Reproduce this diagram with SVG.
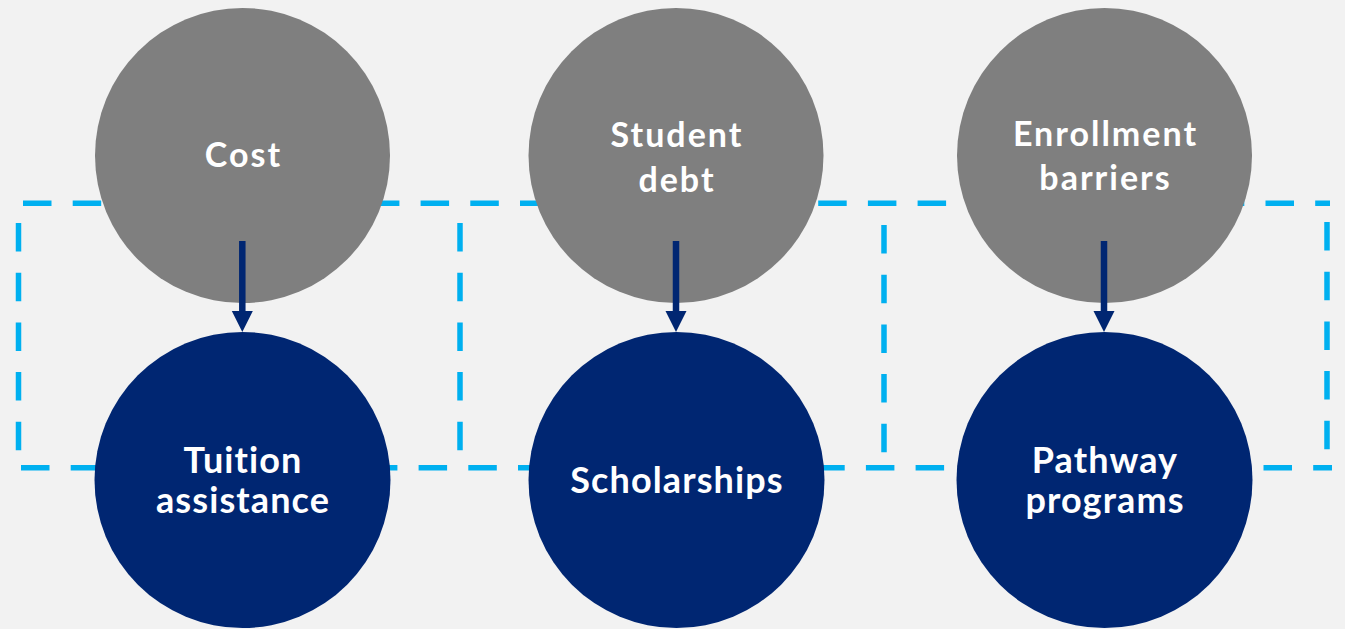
<svg xmlns="http://www.w3.org/2000/svg" width="1345" height="629" viewBox="0 0 1345 629">
  <defs>
    <style>
      .bg { fill: #F2F2F2; }
      .dash { stroke: #00B0F0; stroke-width: 5.5; fill: none; stroke-dasharray: 28.5 21.2; }
      .top { fill: #7F7F7F; }
      .bot { fill: #002672; }
      .lbl { fill: #FFFFFF; font-family: Lato, "Open Sans", "Liberation Sans", sans-serif; font-weight: bold; text-anchor: middle; font-variant-ligatures: none; font-feature-settings: "liga" 0; }
      .s1 { font-size: 34px; letter-spacing: 2px; }
      .s2 { font-size: 36px; letter-spacing: 1.1px; }
      .conn { stroke: #002672; stroke-width: 6.5; fill: none; }
    </style>
    <marker id="arrow" markerUnits="userSpaceOnUse" markerWidth="22" markerHeight="22" refX="0" refY="10.5" orient="auto" viewBox="0 0 22 22">
      <path d="M0,0 L21,10.5 L0,21 Z" fill="#002672"/>
    </marker>
  </defs>
  <rect class="bg" x="0" y="0" width="1345" height="629"/>

  <g id="groups">
    <line class="dash" x1="18" y1="203.3" x2="1330" y2="203.3" stroke-dashoffset="44.7"/>
    <line class="dash" x1="18" y1="467.7" x2="1332" y2="467.7" stroke-dashoffset="46.7"/>
    <line class="dash" x1="18.5" y1="203" x2="18.5" y2="468" stroke-dashoffset="29.7"/>
    <line class="dash" x1="460" y1="203" x2="460" y2="468" stroke-dashoffset="29.7"/>
    <line class="dash" x1="884" y1="205" x2="884" y2="470" stroke-dashoffset="29.7"/>
    <line class="dash" x1="1327" y1="202" x2="1327" y2="467" stroke-dashoffset="29.7"/>
  </g>

  <g id="node-cost">
    <circle class="top" cx="242.5" cy="155.5" r="147.5"/>
    <text class="lbl s1" x="243.5" y="167.3">Cost</text>
  </g>
  <g id="node-student-debt">
    <circle class="top" cx="676" cy="155.5" r="147.5"/>
    <text class="lbl s1" x="677" y="146.5">Student</text>
    <text class="lbl s1" x="677" y="192.3">debt</text>
  </g>
  <g id="node-enrollment-barriers">
    <circle class="top" cx="1104.5" cy="155.5" r="147.5"/>
    <text class="lbl s1" x="1105.5" y="145.5">Enrollment</text>
    <text class="lbl s1" x="1105.5" y="190.3">barriers</text>
  </g>

  <g id="node-tuition-assistance">
    <circle class="bot" cx="242.5" cy="480" r="148"/>
    <text class="lbl s2" x="243" y="472.7">Tuition</text>
    <text class="lbl s2" x="243" y="513.3">assistance</text>
  </g>
  <g id="node-scholarships">
    <circle class="bot" cx="676.5" cy="480" r="148"/>
    <text class="lbl s2" x="677" y="493.3">Scholarships</text>
  </g>
  <g id="node-pathway-programs">
    <circle class="bot" cx="1104.5" cy="480" r="148"/>
    <text class="lbl s2" x="1105" y="472.7">Pathway</text>
    <text class="lbl s2" x="1105" y="513.3">programs</text>
  </g>

  <g id="connectors">
    <line class="conn" x1="242.3" y1="241" x2="242.3" y2="311" marker-end="url(#arrow)"/>
    <line class="conn" x1="676" y1="241" x2="676" y2="311" marker-end="url(#arrow)"/>
    <line class="conn" x1="1104" y1="241" x2="1104" y2="311" marker-end="url(#arrow)"/>
  </g>
</svg>
